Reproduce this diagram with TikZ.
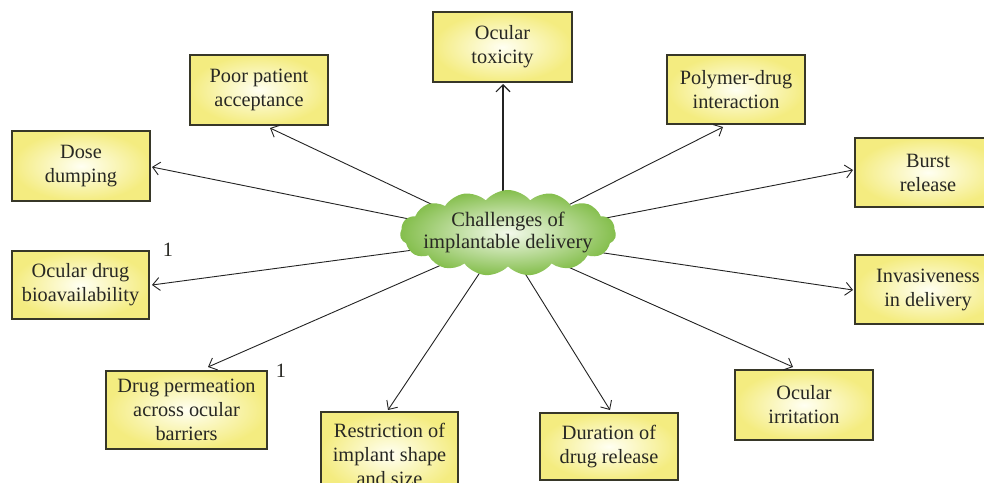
\documentclass[tikz,border=0pt]{standalone}
\usepackage{fontspec}
\setmainfont{Liberation Serif}
\usetikzlibrary{shapes.symbols,arrows.meta}
\definecolor{txt}{RGB}{40,40,35}
\definecolor{boxline}{RGB}{55,55,40}
\definecolor{boxout}{RGB}{244,236,128}
\definecolor{boxin}{RGB}{255,255,242}
\definecolor{cloudout}{RGB}{132,190,76}
\definecolor{cloudin}{RGB}{244,250,236}
\definecolor{lin}{RGB}{35,35,35}
\begin{document}
\begin{tikzpicture}[x=1pt,y=-1pt,
  box/.style={draw=boxline, line width=1.1pt, inner color=boxin, outer color=boxout,
    minimum width=138pt, minimum height=70pt, inner sep=0pt, align=center, text=txt,
    font=\fontsize{20.3}{24}\selectfont},
  conn/.style={draw=lin, line width=0.9pt, -{Straight Barb[length=7pt,width=13pt]}},
  lbl/.style={text=txt, font=\fontsize{20.3}{24}\selectfont, inner sep=0pt}]
\clip (0,0) rectangle (984,482);
\fill[white] (0,0) rectangle (984,482);
% boxes
\node[box, minimum width=139pt] (tox) at (502.5,47) {Ocular\\toxicity};
\node[box] (pp) at (259,90) {Poor patient\\acceptance};
\node[box, minimum height=69pt] (pd) at (736,89.5) {Polymer-drug\\interaction};
\node[box] (dd) at (81,166) {Dose\\dumping};
\node[box, minimum width=137pt, minimum height=68pt] (bio) at (80.5,285) {Ocular drug\\bioavailability};
\node[box, minimum width=146pt, minimum height=69pt] (burst) at (928,172.5) {Burst\\release};
\node[box, minimum width=146pt, minimum height=69pt] (inv) at (928,289.5) {Invasiveness\\in delivery};
\node[box, minimum width=161pt, minimum height=78pt] (perm) at (186.5,410) {Drug permeation\\across ocular\\barriers};
\node[box, minimum width=137pt, minimum height=84pt] (restr) at (389.5,454) {Restriction of\\implant shape\\and size};
\node[box, minimum height=67pt] (dur) at (609,446.5) {Duration of\\drug release};
\node[box] (irr) at (804,405) {Ocular\\irritation};
% labels
\node[lbl] (one1) at (168,250) {1};
\node[lbl] (one2) at (281,371) {1};
% connector ends
\coordinate (cc) at (503,238);
\coordinate (etox) at (503,84);
\coordinate (epp) at (270,128);
\coordinate (epd) at (723,127);
\coordinate (edd) at (152,167);
\coordinate (eburst) at (853,170);
\coordinate (ebio) at (152,285);
\coordinate (einv) at (853,290);
\coordinate (eperm) at (208,367);
\coordinate (erestr) at (388,410);
\coordinate (edur) at (610,410);
\coordinate (eirr) at (793,367);
% connectors
\draw[conn, line width=1.8pt, -{Straight Barb[length=7pt,width=14pt,line width=1.1pt]}] (cc) -- (etox);
\foreach \e in {epp,epd,edd,eburst,ebio,einv,eperm,erestr,edur,eirr}
  \draw[conn] (cc) -- (\e);
% cloud
\node[cloud, cloud puffs=15, cloud puff arc=100, cloud ignores aspect,
  minimum width=216pt, minimum height=86pt, inner sep=0pt,
  inner color=cloudin, outer color=cloudout] (cloud) at (508,233) {};
\node[text=txt, align=center, inner sep=0pt, font=\fontsize{20.5}{22}\selectfont] (ctext) at (508,232) {Challenges of\\implantable delivery};
\end{tikzpicture}
\end{document}
